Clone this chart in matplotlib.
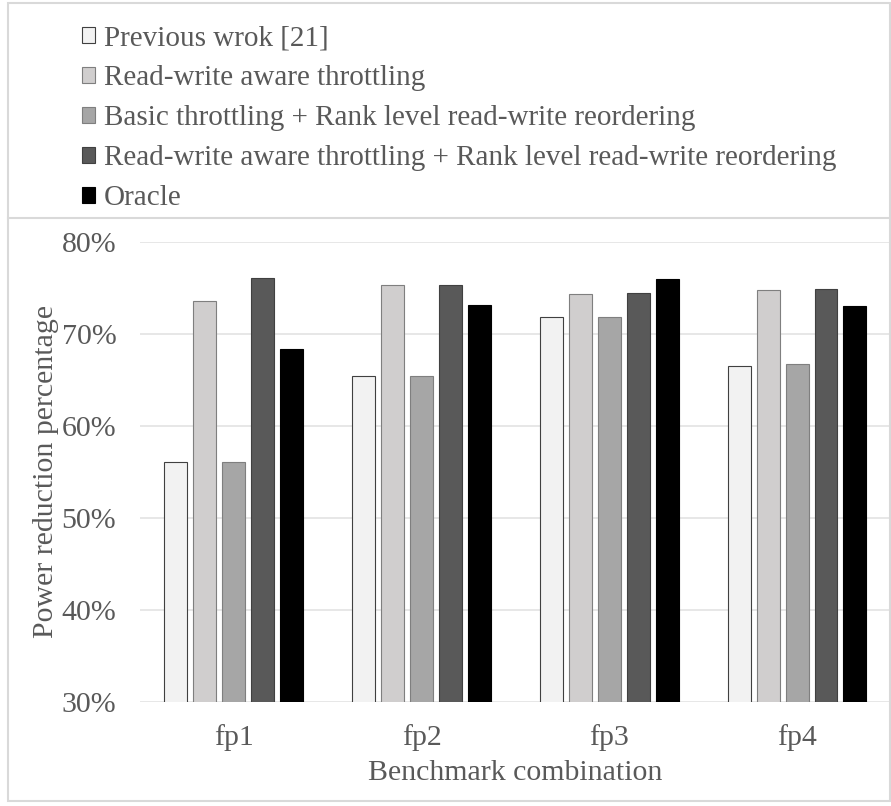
import numpy as np
import matplotlib
matplotlib.use("Agg")
import matplotlib.pyplot as plt
from matplotlib.lines import Line2D
from matplotlib.patches import Rectangle

# data
benchmarks = ["fp1", "fp2", "fp3", "fp4"]
series_names = [
    "Previous wrok [21]",
    "Read-write aware throttling",
    "Basic throttling + Rank level read-write reordering",
    "Read-write aware throttling + Rank level read-write reordering",
    "Oracle",
]
previous_work = [56.1, 65.4, 71.8, 66.5]
rw_throttling = [73.6, 75.3, 74.3, 74.8]
basic_reorder = [56.1, 65.4, 71.8, 66.7]
rw_reorder = [76.1, 75.3, 74.4, 74.9]
oracle = [68.3, 73.1, 76.0, 73.0]
all_series = [previous_work, rw_throttling, basic_reorder, rw_reorder, oracle]

fills = ["#f2f2f2", "#d0cece", "#a6a6a6", "#595959", "#000000"]
edges = ["#404040", "#7f7f7f", "#7f7f7f", "#404040", "#000000"]
txt = "#595959"

plt.rcParams["font.family"] = ["Liberation Serif", "DejaVu Serif"]

fig = plt.figure(figsize=(8.91, 8.06), dpi=100)
ax = fig.add_axes([0.157, 0.129, 0.843, 0.571])

x = np.arange(len(benchmarks))
w = 0.122
step = 0.154
for k, vals in enumerate(all_series):
    ax.bar(x + (k - 2) * step, vals, width=w, color=fills[k],
           edgecolor=edges[k], linewidth=0.8, label=series_names[k], zorder=3)

ax.set_xlim(-0.5, 3.5)
ax.set_ylim(30, 80)
ax.set_yticks(np.arange(30, 81, 10))
ax.set_yticklabels([f"{v}%" for v in range(30, 81, 10)])
ax.set_xticks(x)
ax.set_xticklabels(benchmarks)
ax.grid(axis="y", color="#e3e3e3", linewidth=1.2, zorder=0)
for s in ax.spines.values():
    s.set_visible(False)
ax.tick_params(axis="y", length=0, labelsize=21.5, colors=txt, pad=17)
ax.tick_params(axis="x", length=0, labelsize=21.5, colors=txt, pad=16)
ax.set_ylabel("Power reduction percentage", fontsize=21.5, color=txt, labelpad=2)
ax.set_xlabel("Benchmark combination", fontsize=21.5, color=txt, labelpad=6)

handles, labels = ax.get_legend_handles_labels()
leg = fig.legend(handles, labels, loc="upper left", bbox_to_anchor=(0.079, 0.983),
                 frameon=False, fontsize=21, handlelength=0.45, handleheight=0.45,
                 handletextpad=0.3, labelspacing=0.48, borderaxespad=0)
for t in leg.get_texts():
    t.set_color(txt)

# outer frame and divider line
fig.add_artist(Rectangle((0.009, 0.006), 0.99, 0.99, transform=fig.transFigure,
                         fill=False, edgecolor="#d9d9d9", linewidth=1.5))
fig.add_artist(Line2D([0.009, 1.0], [0.729, 0.729], transform=fig.transFigure,
                      color="#d9d9d9", linewidth=1.5))

fig.savefig("out.png", dpi=100)
